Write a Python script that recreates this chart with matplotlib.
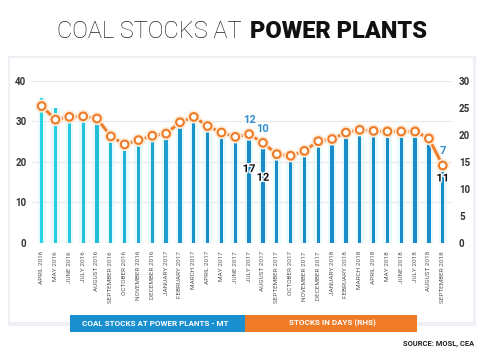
import matplotlib
matplotlib.use('Agg')
import matplotlib.pyplot as plt
import matplotlib.patheffects as pe
from matplotlib.colors import LinearSegmentedColormap
from matplotlib.patches import Rectangle

plt.rcParams['font.family'] = ['Roboto', 'DejaVu Sans']

months = [
    'APRIL 2016', 'MAY 2016', 'JUNE 2016', 'JULY 2016', 'AUGUST 2016',
    'SEPTEMBER 2016', 'OCTOBER 2016', 'NOVEMBER 2016', 'DECEMBER 2016',
    'JANUARY 2017', 'FEBRUARY 2017', 'MARCH 2017', 'APRIL 2017', 'MAY 2017',
    'JUNE 2017', 'JULY 2017', 'AUGUST 2017', 'SEPTEMBER 2017', 'OCTOBER 2017',
    'NOVEMBER 2017', 'DECEMBER 2017', 'JANUARY 2018', 'FEBRUARY 2018',
    'MARCH 2018', 'APRIL 2018', 'MAY 2018', 'JUNE 2018', 'JULY 2018',
    'AUGUST 2018', 'SEPTEMBER 2018',
]
# coal stocks, million tonnes (left axis)
stocks_mt = [35.8, 33.3, 30.9, 31.0, 30.4, 26.1, 24.1, 25.1, 26.2, 26.7,
             29.5, 30.9, 28.6, 27.0, 25.9, 26.6, 24.5, 21.7, 21.3, 22.5,
             24.9, 25.4, 27.0, 27.7, 27.4, 27.3, 27.3, 27.3, 25.5, 18.9]
# stocks in days (right axis)
stocks_days = [25.3, 22.8, 23.3, 23.4, 23.0, 19.7, 18.2, 19.0, 19.8, 20.2,
               22.3, 23.3, 21.6, 20.4, 19.6, 20.1, 18.5, 16.4, 16.1, 17.0,
               18.8, 19.2, 20.4, 20.9, 20.7, 20.6, 20.6, 20.6, 19.3, 14.3]
left_ticks = [0, 10, 20, 30, 40]
right_ticks = [0, 5, 10, 15, 20, 25, 30]
# callouts: (month index, days label, MT label)
callouts = [(15, '12', '17'), (16, '10', '12'), (29, '7', '11')]
mt_offsets = [-35, -35, -13]

BLUE = '#1a8fd0'
ORANGE = '#f07b26'

fig = plt.figure(figsize=(4.86, 3.6), dpi=100)
fig.patch.set_facecolor('white')

# card with soft shadow
fig.add_artist(Rectangle((8 / 486, 1 - 326 / 360), 468 / 486, 270 / 360,
                         transform=fig.transFigure, facecolor='#eef0f6',
                         edgecolor='none', zorder=0))
fig.add_artist(Rectangle((10 / 486, 1 - 322 / 360), 463 / 486, 264 / 360,
                         transform=fig.transFigure, facecolor='white',
                         edgecolor='none', zorder=0))

# title
fig.text(242 / 486, 1 - 31 / 360, 'COAL STOCKS AT', ha='right', va='center',
         fontsize=17, fontweight='light', color='#222222')
fig.text(250 / 486, 1 - 31 / 360, 'POWER PLANTS', ha='left', va='center',
         fontsize=17, fontweight='black', color='#111111')

ax = fig.add_axes([32 / 486, 117.3 / 360, 420 / 486, 162 / 360])
ax.patch.set_alpha(0)
x = list(range(len(months)))
cmap = LinearSegmentedColormap.from_list('bars', ['#27d4e4', '#1b8cca'])
bar_colors = [cmap(min(1.0, i / 12)) for i in x]

ax.bar(x, stocks_mt, width=0.6, color='#d8f7fb', alpha=0.6, zorder=2)
ax.bar(x, stocks_mt, width=0.24, color=bar_colors, zorder=3)
ax.set_xlim(-0.7, 29.67)
ax.set_ylim(0, 40)
ax.set_yticks(left_ticks)
ax.yaxis.grid(True, color='#e8e8e8', linewidth=0.8, zorder=0)
ax.set_axisbelow(True)
for s in ax.spines.values():
    s.set_visible(False)
ax.tick_params(axis='y', length=0, pad=4, labelsize=7, labelcolor='#333333')
ax.set_xticks(x)
ax.set_xticklabels(months, rotation=90, fontsize=4.6, color='#555555')
ax.tick_params(axis='x', length=0, pad=6)
for lbl in ax.get_yticklabels():
    lbl.set_fontweight('bold')

ax2 = ax.twinx()
ax2.set_ylim(0, 30)
ax2.set_yticks(right_ticks)
for s in ax2.spines.values():
    s.set_visible(False)
ax2.tick_params(axis='y', length=0, pad=5, labelsize=7, labelcolor='#333333')
for lbl in ax2.get_yticklabels():
    lbl.set_fontweight('bold')

ax2.plot(x, stocks_days, color=ORANGE, linewidth=2.0, marker='o',
         markersize=5.5, markerfacecolor='white', markeredgecolor=ORANGE,
         markeredgewidth=1.5, zorder=5, clip_on=False,
         path_effects=[pe.Stroke(linewidth=4, foreground='#fdebd8'), pe.Normal()])

for (i, days_lbl, mt_lbl), off in zip(callouts, mt_offsets):
    ax2.annotate(days_lbl, (i, stocks_days[i]), xytext=(0, 14),
                 textcoords='offset pixels', ha='center', va='center',
                 fontsize=8, fontweight='bold', color='#2f8fcf', zorder=6)
    ax2.annotate(mt_lbl, (i, stocks_days[i]), xytext=(0, off),
                 textcoords='offset pixels', ha='center', va='center',
                 fontsize=8, fontweight='bold', color='#111111', zorder=6,
                 path_effects=[pe.withStroke(linewidth=2, foreground='white')])

# legend strips
fig.add_artist(Rectangle((70 / 486, 1 - 332 / 360), 175 / 486, 17 / 360,
                         transform=fig.transFigure, facecolor=BLUE,
                         edgecolor='none', zorder=3))
fig.add_artist(Rectangle((245 / 486, 1 - 332 / 360), 172 / 486, 17 / 360,
                         transform=fig.transFigure, facecolor=ORANGE,
                         edgecolor='none', zorder=3))
fig.text(155 / 486, 1 - 323.5 / 360, 'COAL STOCKS AT POWER PLANTS - MT',
         ha='center', va='center', fontsize=5.8, fontweight='bold',
         color='white', zorder=4)
fig.text(332 / 486, 1 - 323.5 / 360, 'STOCKS IN DAYS (RHS)',
         ha='center', va='center', fontsize=5.8, fontweight='bold',
         color='white', zorder=4)
fig.text(474 / 486, 1 - 344 / 360, 'SOURCE: MOSL, CEA', ha='right',
         va='center', fontsize=5.4, fontweight='bold', color='#222222')

fig.savefig('out.png', dpi=100, facecolor='white')
